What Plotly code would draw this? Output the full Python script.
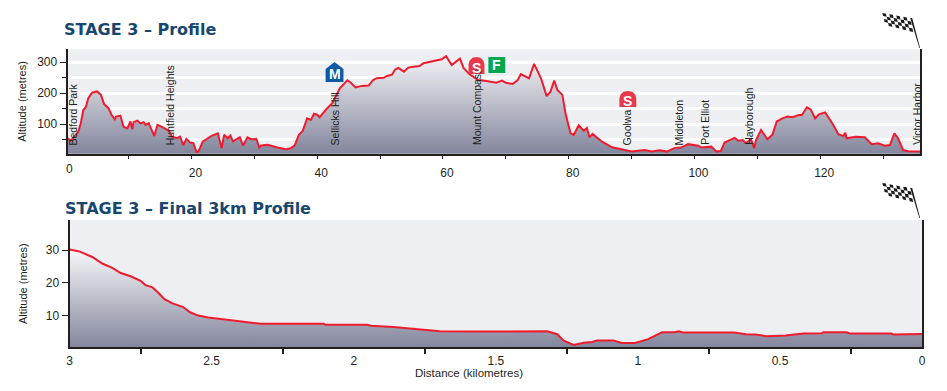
import plotly.graph_objects as go

W, H = 931, 375
PAGE_MARGIN = 8

stage_km = [0.3,0.8,1.4,2.0,2.4,2.8,3.2,3.6,4.2,5.0,5.6,6.1,6.8,7.3,7.8,8.0,8.7,9.2,9.8,10.3,10.6,10.8,11.4,11.9,12.4,12.7,13.2,13.7,14.1,14.6,15.3,16.4,16.9,17.7,18.2,18.7,19.2,19.8,20.3,20.8,21.1,21.8,22.4,23.2,24.2,24.8,25.2,25.8,26.2,26.6,27.7,28.2,28.9,29.5,30.3,30.8,31.1,32.1,33.7,35.0,35.8,36.4,37.1,37.7,38.4,39.0,39.5,40.0,40.4,41.1,41.6,42.4,42.9,43.6,44.8,45.3,46.1,47.1,48.2,48.9,49.5,50.6,51.1,51.9,52.4,52.9,53.8,54.5,55.3,56.3,56.9,57.9,59.0,59.8,60.5,61.4,62.7,63.3,64.2,65.6,66.9,68.5,69.4,70.0,71.1,71.9,72.4,73.7,74.5,75.6,76.5,77.1,77.7,78.2,79.0,79.5,80.3,80.8,81.6,82.4,82.9,83.3,83.8,85.3,86.9,88.5,90.0,92.1,93.2,94.5,95.6,96.9,97.9,99.0,100.6,101.1,102.7,103.5,104.2,104.8,105.8,106.4,107.0,107.7,108.2,109.0,109.5,109.8,110.6,111.6,112.4,113.1,114.0,114.8,115.6,116.6,117.1,117.9,118.5,119.2,119.8,120.8,122.1,122.9,123.7,124.0,124.2,125.6,127.1,128.2,129.2,130.3,131.1,131.8,132.4,133.2,134.0,135.9]
stage_alt = [54,46,59,75,102,145,154,183,201,205,194,165,151,129,115,124,127,91,86,108,83,106,111,102,106,97,103,77,61,97,91,78,59,54,59,32,52,40,38,10,11,43,51,62,70,22,65,54,63,44,57,30,57,51,52,24,31,33,24,19,22,30,65,78,118,113,133,130,122,140,151,167,188,215,241,234,218,223,224,242,248,249,255,259,276,281,269,282,285,287,296,301,306,309,319,290,311,280,261,242,239,233,240,233,229,242,261,247,294,247,190,204,240,210,194,134,70,65,96,78,87,57,68,43,25,19,11,16,11,15,11,23,24,35,30,24,27,11,13,40,48,55,46,48,38,51,22,48,81,51,65,108,118,124,122,129,129,154,147,118,131,137,97,67,61,72,54,59,57,35,38,30,32,70,54,16,12,11]

final_km = [3.0,2.966,2.92,2.885,2.85,2.82,2.785,2.75,2.733,2.708,2.687,2.666,2.64,2.6,2.576,2.547,2.512,2.454,2.396,2.326,2.105,2.1,1.953,1.94,1.86,1.767,1.697,1.593,1.319,1.284,1.261,1.226,1.191,1.162,1.144,1.086,1.057,1.01,0.993,0.964,0.915,0.871,0.856,0.842,0.661,0.62,0.586,0.547,0.481,0.417,0.353,0.347,0.265,0.254,0.108,0.102,0.0]
final_alt = [30.2,29.6,27.9,25.9,24.6,23,22,20.6,19.3,18.6,16.9,15,13.8,12.6,11,10,9.4,8.8,8.1,7.5,7.5,7.2,7.2,6.9,6.5,5.8,5.2,5.1,5.2,4.3,2.3,1.0,1.7,1.9,2.4,2.4,1.6,1.6,2.1,2.8,4.9,4.9,5.2,4.8,4.8,4.3,4.2,3.7,3.9,4.5,4.6,4.9,4.9,4.5,4.5,4.2,4.4]

place_names = ["Bedford Park","Huntfield Heights","Sellicks Hill","Mount Compass","Goolwa","Middleton","Port Elliot","Hayborough","Victor Harbor"]
place_km = [1.2,16.6,42.8,65.4,89.3,97.6,101.7,108.7,135.5]

stage_ticks = [20,40,60,80,100,120]
stage_minor = [10,30,50,70,90,110,130]
final_ticks = [3,2.5,2,1.5,1,0.5,0]
final_labels = ["3","2.5","2","1.5","1","0.5","0"]
final_minor = [2.75,2.25,1.75,1.25,0.75,0.25]

INK = "#231f20"
RED = "#ee1c2e"
BG = "#eeeff3"
NAVY = "#17466f"
FONT = "Liberation Sans"


def px(x):
    return (x - PAGE_MARGIN) / W


def py(y):
    return 1 - (y - PAGE_MARGIN) / H


fig = go.Figure()
fig.add_trace(go.Scatter(x=stage_km, y=stage_alt, mode="lines", xaxis="x", yaxis="y",
                         line=dict(color=RED, width=2), fill="tozeroy",
                         fillgradient=dict(type="vertical", start=320, stop=0,
                                           colorscale=[[0, "#f3f3f6"], [1, "#82859c"]]),
                         hoverinfo="skip", showlegend=False))
fig.add_trace(go.Scatter(x=final_km, y=final_alt, mode="lines", xaxis="x2", yaxis="y2",
                         line=dict(color=RED, width=2), fill="tozeroy",
                         fillgradient=dict(type="vertical", start=31, stop=0,
                                           colorscale=[[0, "#fbfbfc"], [1, "#82859c"]]),
                         hoverinfo="skip", showlegend=False))

tickfont = dict(family=FONT, size=12, color=INK)
titlefont = dict(family=FONT, size=11, color=INK)

fig.update_layout(
    width=W, height=H, margin=dict(l=0, r=0, t=0, b=0), autosize=False,
    paper_bgcolor="white", plot_bgcolor=BG, showlegend=False,
    xaxis=dict(domain=[px(65), px(924)], range=[0.3, 135.9], anchor="y",
               tickmode="array", tickvals=stage_ticks, ticktext=[str(t) for t in stage_ticks],
               ticks="outside", ticklen=3, tickwidth=1, tickcolor=INK, tickfont=tickfont,
               ticklabelshift=4, ticklabelstandoff=4, showgrid=False, zeroline=False,
               showline=True, linecolor=INK, linewidth=2,
               minor=dict(tickmode="array", tickvals=stage_minor, ticks="outside", ticklen=3,
                          tickwidth=1, tickcolor=INK, showgrid=False)),
    yaxis=dict(domain=[py(153.7), py(49.3)], range=[4.2, 341], anchor="x",
               tickmode="array", tickvals=[100, 200, 300], ticktext=["100", "200", "300"],
               ticks="outside", ticklen=6, tickwidth=1, tickcolor=INK, tickfont=tickfont,
               showgrid=True, gridcolor="white", gridwidth=3, zeroline=False,
               showline=True, mirror=True, linecolor=INK, linewidth=2,
               title=dict(text="Altitude (metres)", font=titlefont, standoff=8),
               minor=dict(tickmode="array", tickvals=[50, 150, 250], ticks="outside", ticklen=4,
                          tickwidth=1, tickcolor=INK, showgrid=True, gridcolor="white", gridwidth=3)),
    xaxis2=dict(domain=[px(67), px(926)], range=[3, 0], anchor="y2",
                tickmode="array", tickvals=final_ticks, ticktext=final_labels,
                ticks="", tickfont=tickfont, ticklabelstandoff=1, showgrid=False, zeroline=False,
                showline=True, linecolor=INK, linewidth=2,
                minor=dict(tickmode="array", tickvals=final_minor, ticks="outside", ticklen=5,
                           tickwidth=1.5, tickcolor=INK, showgrid=False)),
    yaxis2=dict(domain=[py(347.3), py(220)], range=[0.3, 39.2], anchor="x2",
                tickmode="array", tickvals=[10, 20, 30], ticktext=["10", "20", "30"],
                ticks="outside", ticklen=6, tickwidth=1, tickcolor=INK, tickfont=tickfont,
                showgrid=False, zeroline=False, showline=True, mirror=True,
                linecolor=INK, linewidth=2,
                title=dict(text="Altitude (metres)", font=titlefont, standoff=16)),
)

ann = []
for name, km in zip(place_names, place_km):
    ann.append(dict(x=km, y=25, xref="x", yref="y", text=name, textangle=-90, showarrow=False,
                    xanchor="center", yanchor="bottom", font=dict(family=FONT, size=10.5, color=INK)))
ann.append(dict(x=px(67), y=py(169), xref="paper", yref="paper", text="0", showarrow=False,
                font=tickfont, xanchor="center", yanchor="middle"))
ann.append(dict(x=px(469), y=py(373), xref="paper", yref="paper", text="Distance (kilometres)",
                showarrow=False, font=dict(family=FONT, size=11.5, color=INK),
                xanchor="center", yanchor="middle"))
for text, tx, ty in [("STAGE 3 – Profile", 59, 30), ("STAGE 3 – Final 3km Profile", 60, 208)]:
    ann.append(dict(x=px(tx), y=py(ty), xref="paper", yref="paper", text=f"<b>{text}</b>",
                    showarrow=False, xanchor="left", yanchor="middle",
                    font=dict(family="DejaVu Sans", size=16, color=NAVY)))

shapes = []


def poly(points, color):
    d = "M " + " L ".join(f"{px(a):.5f},{py(b):.5f}" for a, b in points) + " Z"
    shapes.append(dict(type="path", path=d, xref="paper", yref="paper",
                       fillcolor=color, line=dict(width=0), layer="above"))


def badge(letter, x0, x1, y0, y1, color, kind):
    if kind == "house":
        mid = (x0 + x1) / 2
        poly([(x0, y0 + 7), (mid, y0), (x1, y0 + 7), (x1, y1), (x0, y1)], color)
    elif kind == "round":
        mid = (x0 + x1) / 2
        poly([(x0, y1), (x0, y0 + 7), (x0 + 1.2, y0 + 3.4), (x0 + 4, y0 + 0.8), (mid, y0),
              (x1 - 4, y0 + 0.8), (x1 - 1.2, y0 + 3.4), (x1, y0 + 7), (x1, y1)], color)
    else:
        poly([(x0, y0), (x1, y0), (x1, y1), (x0, y1)], color)
    cy = (y0 + y1) / 2 + (2 if kind != "square" else 0)
    ann.append(dict(x=px((x0 + x1) / 2), y=py(cy), xref="paper", yref="paper",
                    text=f"<b>{letter}</b>", showarrow=False,
                    font=dict(family=FONT, size=14, color="white"),
                    xanchor="center", yanchor="middle"))


badge("M", 325, 343, 62, 82, "#0b5aa5", "house")
badge("S", 469, 485, 57, 74, "#e63a4b", "round")
badge("F", 489, 506, 57, 73, "#00a650", "square")
badge("S", 621, 638, 91, 107, "#e63a4b", "round")


def flag(dy):
    tl, tr, br, bl = (886, 13), (914, 18), (917, 32), (889, 25)
    nx, ny = 8, 4

    def at(u, v):
        ax = tl[0] + (tr[0] - tl[0]) * u
        ay = tl[1] + (tr[1] - tl[1]) * u
        bx = bl[0] + (br[0] - bl[0]) * u
        by = bl[1] + (br[1] - bl[1]) * u
        return (ax + (bx - ax) * v, ay + (by - ay) * v + dy)

    for i in range(nx):
        for j in range(ny):
            if (i + j) % 2 == 0:
                poly([at(i / nx, j / ny), at((i + 1) / nx, j / ny),
                      at((i + 1) / nx, (j + 1) / ny), at(i / nx, (j + 1) / ny)], "#1a1a1a")
    poly([(914, 18 + dy), (916, 18 + dy), (924, 48 + dy), (923.3, 48 + dy)], "#1a1a1a")


flag(0)
flag(170)

fig.update_layout(annotations=ann, shapes=shapes)
fig.write_html("out.html")
